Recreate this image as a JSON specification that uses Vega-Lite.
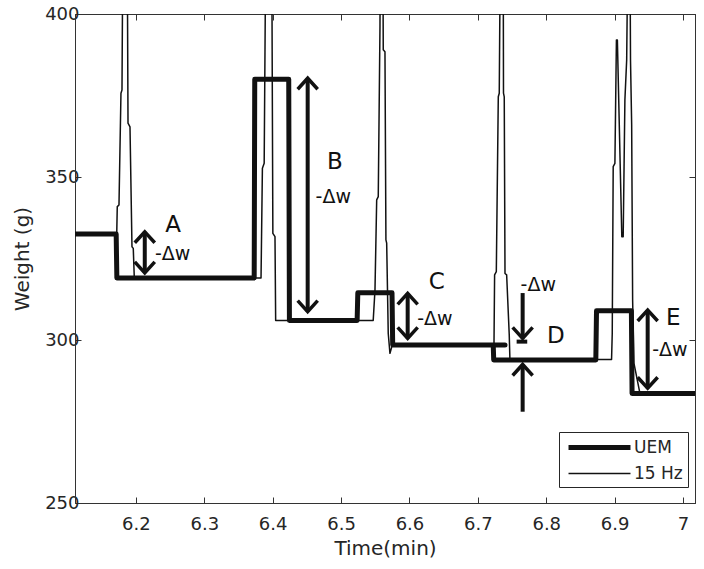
{
  "$schema": "https://vega.github.io/schema/vega-lite/v6.json",
  "width": 620,
  "height": 489,
  "autosize": {"type": "none"},
  "padding": {"left": 75, "top": 14, "right": 9, "bottom": 66},
  "background": "white",
  "config": {
    "font": "DejaVu Sans",
    "view": {"stroke": "#333333", "strokeWidth": 1},
    "axis": {
      "domainColor": "#333333", "tickColor": "#333333", "labelColor": "#262626", "titleColor": "#262626",
      "labelFont": "DejaVu Sans", "titleFont": "DejaVu Sans", "labelFontSize": 18, "titleFontSize": 20,
      "titleFontWeight": "normal", "grid": false, "tickSize": -6, "tickWidth": 1, "domainWidth": 1
    }
  },
  "datasets": {
    "lines": [
      {"s": "UEM", "t": 6.111, "w": 332.5},
      {"s": "UEM", "t": 6.1712, "w": 332.5},
      {"s": "UEM", "t": 6.1722, "w": 319},
      {"s": "UEM", "t": 6.373, "w": 319},
      {"s": "UEM", "t": 6.3738, "w": 380},
      {"s": "UEM", "t": 6.4235, "w": 380},
      {"s": "UEM", "t": 6.4245, "w": 306},
      {"s": "UEM", "t": 6.5235, "w": 306},
      {"s": "UEM", "t": 6.5245, "w": 314.5},
      {"s": "UEM", "t": 6.5745, "w": 314.5},
      {"s": "UEM", "t": 6.5755, "w": 298.5},
      {"s": "UEM", "t": 6.7397, "w": 298.5},
      {"s": "UEM", "t": 6.7225, "w": 298.5},
      {"s": "UEM", "t": 6.7232, "w": 293.9},
      {"s": "UEM", "t": 6.8725, "w": 293.9},
      {"s": "UEM", "t": 6.8735, "w": 309},
      {"s": "UEM", "t": 6.9245, "w": 309},
      {"s": "UEM", "t": 6.9255, "w": 283.6},
      {"s": "UEM", "t": 7.0175, "w": 283.6},
      {"s": "15 Hz", "t": 6.111, "w": 332.5},
      {"s": "15 Hz", "t": 6.172, "w": 332.5},
      {"s": "15 Hz", "t": 6.1728, "w": 340.9},
      {"s": "15 Hz", "t": 6.1753, "w": 341.4},
      {"s": "15 Hz", "t": 6.1782, "w": 375.7},
      {"s": "15 Hz", "t": 6.1797, "w": 376.7},
      {"s": "15 Hz", "t": 6.1812, "w": 430},
      {"s": "15 Hz", "t": 6.1872, "w": 430},
      {"s": "15 Hz", "t": 6.1885, "w": 366.5},
      {"s": "15 Hz", "t": 6.1914, "w": 365.4},
      {"s": "15 Hz", "t": 6.1943, "w": 328.6},
      {"s": "15 Hz", "t": 6.1962, "w": 328.1},
      {"s": "15 Hz", "t": 6.1977, "w": 319},
      {"s": "15 Hz", "t": 6.383, "w": 319},
      {"s": "15 Hz", "t": 6.385, "w": 352.7},
      {"s": "15 Hz", "t": 6.3876, "w": 354.2},
      {"s": "15 Hz", "t": 6.3902, "w": 430},
      {"s": "15 Hz", "t": 6.3985, "w": 430},
      {"s": "15 Hz", "t": 6.4003, "w": 332.7},
      {"s": "15 Hz", "t": 6.4034, "w": 331.7},
      {"s": "15 Hz", "t": 6.4044, "w": 306},
      {"s": "15 Hz", "t": 6.547, "w": 306},
      {"s": "15 Hz", "t": 6.5496, "w": 315.3},
      {"s": "15 Hz", "t": 6.5521, "w": 343},
      {"s": "15 Hz", "t": 6.5544, "w": 344},
      {"s": "15 Hz", "t": 6.5569, "w": 396},
      {"s": "15 Hz", "t": 6.5575, "w": 430},
      {"s": "15 Hz", "t": 6.561, "w": 430},
      {"s": "15 Hz", "t": 6.5617, "w": 389},
      {"s": "15 Hz", "t": 6.5642, "w": 388.4},
      {"s": "15 Hz", "t": 6.5656, "w": 330.7},
      {"s": "15 Hz", "t": 6.5667, "w": 329.7},
      {"s": "15 Hz", "t": 6.569, "w": 302},
      {"s": "15 Hz", "t": 6.5715, "w": 295.9},
      {"s": "15 Hz", "t": 6.575, "w": 298.5},
      {"s": "15 Hz", "t": 6.7236, "w": 298.5},
      {"s": "15 Hz", "t": 6.7245, "w": 320},
      {"s": "15 Hz", "t": 6.727, "w": 321},
      {"s": "15 Hz", "t": 6.7299, "w": 374.6},
      {"s": "15 Hz", "t": 6.7313, "w": 375.7},
      {"s": "15 Hz", "t": 6.7332, "w": 430},
      {"s": "15 Hz", "t": 6.737, "w": 430},
      {"s": "15 Hz", "t": 6.7375, "w": 375.7},
      {"s": "15 Hz", "t": 6.7386, "w": 374.6},
      {"s": "15 Hz", "t": 6.7397, "w": 320.4},
      {"s": "15 Hz", "t": 6.7421, "w": 320},
      {"s": "15 Hz", "t": 6.7459, "w": 301.6},
      {"s": "15 Hz", "t": 6.7469, "w": 294},
      {"s": "15 Hz", "t": 6.8955, "w": 294},
      {"s": "15 Hz", "t": 6.8965, "w": 302},
      {"s": "15 Hz", "t": 6.8979, "w": 353.2},
      {"s": "15 Hz", "t": 6.9004, "w": 354.2},
      {"s": "15 Hz", "t": 6.9026, "w": 392},
      {"s": "15 Hz", "t": 6.904, "w": 392},
      {"s": "15 Hz", "t": 6.9105, "w": 331.7},
      {"s": "15 Hz", "t": 6.9125, "w": 331.7},
      {"s": "15 Hz", "t": 6.915, "w": 373.6},
      {"s": "15 Hz", "t": 6.9176, "w": 385.9},
      {"s": "15 Hz", "t": 6.9198, "w": 430},
      {"s": "15 Hz", "t": 6.9222, "w": 430},
      {"s": "15 Hz", "t": 6.9232, "w": 385.9},
      {"s": "15 Hz", "t": 6.9249, "w": 366},
      {"s": "15 Hz", "t": 6.9263, "w": 312.3},
      {"s": "15 Hz", "t": 6.9282, "w": 292.9},
      {"s": "15 Hz", "t": 6.937, "w": 283.6},
      {"s": "15 Hz", "t": 7.0175, "w": 283.6}
    ],
    "shafts": [
      {"t": 6.213, "lo": 320.6, "hi": 333.2},
      {"t": 6.4512, "lo": 308.7, "hi": 380.3},
      {"t": 6.5974, "lo": 300.5, "hi": 314.3},
      {"t": 6.7655, "lo": 300.5, "hi": 314.4},
      {"t": 6.7655, "lo": 278, "hi": 292.5},
      {"t": 6.9483, "lo": 285.2, "hi": 309.2}
    ],
    "bars": [
      {"t": 6.7567, "t2": 6.7722, "w": 299.5}
    ],
    "heads": [
      {"t": 6.213, "w": 333.2, "dir": "up"},
      {"t": 6.213, "w": 320.6, "dir": "down"},
      {"t": 6.4512, "w": 380.3, "dir": "up"},
      {"t": 6.4512, "w": 308.7, "dir": "down"},
      {"t": 6.5974, "w": 314.3, "dir": "up"},
      {"t": 6.5974, "w": 300.5, "dir": "down"},
      {"t": 6.7655, "w": 300.5, "dir": "down"},
      {"t": 6.7655, "w": 292.5, "dir": "up"},
      {"t": 6.9483, "w": 309.2, "dir": "up"},
      {"t": 6.9483, "w": 285.2, "dir": "down"}
    ],
    "letters": [
      {"label": "A", "t": 6.2543, "w": 335.4},
      {"label": "B", "t": 6.4911, "w": 354.7},
      {"label": "C", "t": 6.6398, "w": 317.9},
      {"label": "D", "t": 6.8142, "w": 301.2},
      {"label": "E", "t": 6.9857, "w": 306.7}
    ],
    "dws": [
      {"label": "-Δw", "t": 6.2538, "w": 326.4},
      {"label": "-Δw", "t": 6.4886, "w": 343.9},
      {"label": "-Δw", "t": 6.6373, "w": 306.3},
      {"label": "-Δw", "t": 6.7883, "w": 316.9},
      {"label": "-Δw", "t": 6.9808, "w": 296.9}
    ]
  },
  "layer": [
    {
      "data": {"name": "lines"},
      "mark": {"type": "line", "clip": true, "strokeJoin": "round", "strokeCap": "butt"},
      "encoding": {
        "x": {"field": "t", "type": "quantitative", "scale": {"domain": [6.111, 7.0175], "nice": false, "zero": false},
              "axis": {"orient": "bottom", "values": [6.2, 6.3, 6.4, 6.5, 6.6, 6.7, 6.8, 6.9, 7.0], "format": "~f", "title": "Time(min)", "labelPadding": 18, "titlePadding": 5}},
        "y": {"field": "w", "type": "quantitative", "scale": {"domain": [250, 400], "nice": false, "zero": false},
              "axis": {"orient": "left", "values": [250, 300, 350, 400], "title": "Weight (g)", "labelPadding": 2, "titlePadding": 12}},
        "color": {"field": "s", "type": "nominal", "scale": {"domain": ["UEM", "15 Hz"], "range": ["#111111", "#111111"]},
                  "legend": {"orient": "none", "legendX": 484, "legendY": 418, "title": null, "symbolType": "M-4,0H4", "symbolSize": 240, "strokeColor": "#262626", "fillColor": "white", "padding": 5, "labelFontSize": 17, "labelFont": "DejaVu Sans", "labelColor": "#262626", "symbolOffset": 25, "labelOffset": 24, "rowPadding": 6}},
        "strokeWidth": {"field": "s", "type": "nominal", "scale": {"domain": ["UEM", "15 Hz"], "range": [5, 1.5]},
                  "legend": {"orient": "none", "legendX": 484, "legendY": 418, "title": null, "symbolType": "M-4,0H4", "symbolSize": 240, "strokeColor": "#262626", "fillColor": "white", "padding": 5, "labelFontSize": 17, "labelFont": "DejaVu Sans", "labelColor": "#262626", "symbolOffset": 25, "labelOffset": 24, "rowPadding": 6}},
        "order": {"value": null}
      }
    },
    {
      "data": {"name": "shafts"},
      "mark": {"type": "rule", "color": "#111111", "strokeWidth": 4},
      "encoding": {
        "x": {"field": "t", "type": "quantitative", "scale": {"domain": [6.111, 7.0175], "nice": false, "zero": false},
              "axis": {"orient": "top", "values": [6.2, 6.3, 6.4, 6.5, 6.6, 6.7, 6.8, 6.9, 7.0], "labels": false, "title": null}},
        "y": {"field": "lo", "type": "quantitative", "scale": {"domain": [250, 400], "nice": false, "zero": false},
              "axis": {"orient": "right", "values": [250, 300, 350, 400], "labels": false, "title": null}},
        "y2": {"field": "hi"}
      }
    },
    {
      "data": {"name": "bars"},
      "mark": {"type": "rule", "color": "#111111", "strokeWidth": 4},
      "encoding": {
        "x": {"field": "t", "type": "quantitative", "scale": {"domain": [6.111, 7.0175], "nice": false, "zero": false}, "axis": null},
        "x2": {"field": "t2"},
        "y": {"field": "w", "type": "quantitative", "scale": {"domain": [250, 400], "nice": false, "zero": false}, "axis": null}
      }
    },
    {
      "data": {"name": "heads"},
      "mark": {"type": "point", "filled": false, "color": "#111111", "strokeWidth": 3.5, "size": 400, "opacity": 1},
      "encoding": {
        "x": {"field": "t", "type": "quantitative", "scale": {"domain": [6.111, 7.0175], "nice": false, "zero": false}, "axis": null},
        "y": {"field": "w", "type": "quantitative", "scale": {"domain": [250, 400], "nice": false, "zero": false}, "axis": null},
        "shape": {"field": "dir", "type": "nominal", "scale": {"domain": ["up", "down"], "range": ["M-1,1.1L0,0L1,1.1", "M-1,-1.1L0,0L1,-1.1"]}, "legend": null}
      }
    },
    {
      "data": {"name": "letters"},
      "mark": {"type": "text", "font": "DejaVu Sans", "fontSize": 23, "color": "#111111", "align": "center", "baseline": "middle"},
      "encoding": {
        "x": {"field": "t", "type": "quantitative", "scale": {"domain": [6.111, 7.0175], "nice": false, "zero": false}, "axis": null},
        "y": {"field": "w", "type": "quantitative", "scale": {"domain": [250, 400], "nice": false, "zero": false}, "axis": null},
        "text": {"field": "label"}
      }
    },
    {
      "data": {"name": "dws"},
      "mark": {"type": "text", "font": "DejaVu Sans", "fontSize": 19, "color": "#111111", "align": "center", "baseline": "middle"},
      "encoding": {
        "x": {"field": "t", "type": "quantitative", "scale": {"domain": [6.111, 7.0175], "nice": false, "zero": false}, "axis": null},
        "y": {"field": "w", "type": "quantitative", "scale": {"domain": [250, 400], "nice": false, "zero": false}, "axis": null},
        "text": {"field": "label"}
      }
    }
  ],
  "resolve": {"axis": {"x": "independent", "y": "independent"}}
}
